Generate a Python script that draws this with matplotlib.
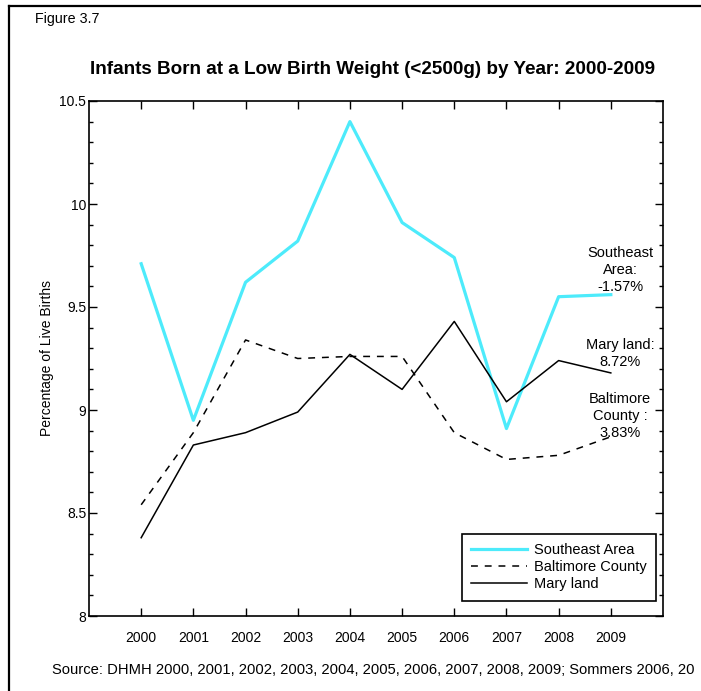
# Figure 3.7 - low birth weight infants by year, 2000-2009
import matplotlib
matplotlib.use("Agg")
import matplotlib.pyplot as plt
from matplotlib.lines import Line2D
from matplotlib.ticker import MultipleLocator, FormatStrFormatter

plt.rcParams["font.family"] = ["Liberation Sans", "DejaVu Sans"]

years = [2000, 2001, 2002, 2003, 2004, 2005, 2006, 2007, 2008, 2009]
southeast = [9.71, 8.95, 9.62, 9.82, 10.40, 9.91, 9.74, 8.91, 9.55, 9.56]
baltimore = [8.54, 8.89, 9.34, 9.25, 9.26, 9.26, 8.89, 8.76, 8.78, 8.87]
maryland = [8.38, 8.83, 8.89, 8.99, 9.27, 9.10, 9.43, 9.04, 9.24, 9.18]

series_labels = ["Southeast Area", "Baltimore County", "Mary land"]
notes = ["Southeast\nArea:\n-1.57%", "Mary land:\n8.72%", "Baltimore\nCounty :\n3.83%"]
note_y = [9.68, 9.275, 8.97]

W, H = 701, 691
fig = plt.figure(figsize=(W / 100, H / 100), dpi=100)

# page frame (left and top edges only visible)
fig.add_artist(Line2D([9 / W, 9 / W], [0, 1 - 6 / H], color="black", lw=1.6))
fig.add_artist(Line2D([9 / W, 1], [1 - 6 / H, 1 - 6 / H], color="black", lw=1.6))

ax = fig.add_axes([89 / W, 75 / H, 574 / W, 515 / H])

ax.plot(years, southeast, color="#4DEBFB", lw=2.3, label=series_labels[0])
ax.plot(years, baltimore, color="black", lw=1.1, dashes=(4.5, 4.5), label=series_labels[1])
ax.plot(years, maryland, color="black", lw=1.1, label=series_labels[2])

ax.set_xlim(1999, 2010)
ax.set_ylim(8, 10.5)
ax.set_xticks(years)
ax.set_xticklabels([str(y) for y in years])
ax.yaxis.set_major_locator(MultipleLocator(0.5))
ax.yaxis.set_minor_locator(MultipleLocator(0.1))
ax.yaxis.set_major_formatter(FormatStrFormatter("%g"))
ax.tick_params(axis="both", which="both", direction="in", top=True, right=True,
               labelsize=10, width=1, color="black")
ax.tick_params(axis="y", which="major", length=6, pad=2)
ax.tick_params(axis="y", which="minor", length=3)
ax.tick_params(axis="x", which="major", length=6, pad=11)
for s in ax.spines.values():
    s.set_linewidth(1.2)

ax.set_ylabel("Percentage of Live Births", fontsize=10, labelpad=4)

for txt, y in zip(notes, note_y):
    ax.text(2009.18, y, txt, ha="center", va="center", fontsize=10.5, linespacing=1.3)

leg = ax.legend(loc="lower right", bbox_to_anchor=(0.988, 0.03), borderaxespad=0,
                fancybox=False, edgecolor="black", fontsize=10.5, handlelength=3.8,
                handletextpad=0.5, labelspacing=0.2, borderpad=0.65, framealpha=1)
leg.get_frame().set_linewidth(1.2)

fig.text(35 / W, 1 - 19 / H, "Figure 3.7", fontsize=10.3, va="center")
fig.text(373 / W, 1 - 70 / H, "Infants Born at a Low Birth Weight (<2500g) by Year: 2000-2009",
         fontsize=13.6, fontweight="bold", ha="center", va="center")
fig.text(52 / W, 1 - 670 / H,
         "Source: DHMH 2000, 2001, 2002, 2003, 2004, 2005, 2006, 2007, 2008, 2009; Sommers 2006, 20",
         fontsize=10.6, va="center")

fig.savefig("out.png", dpi=100)
